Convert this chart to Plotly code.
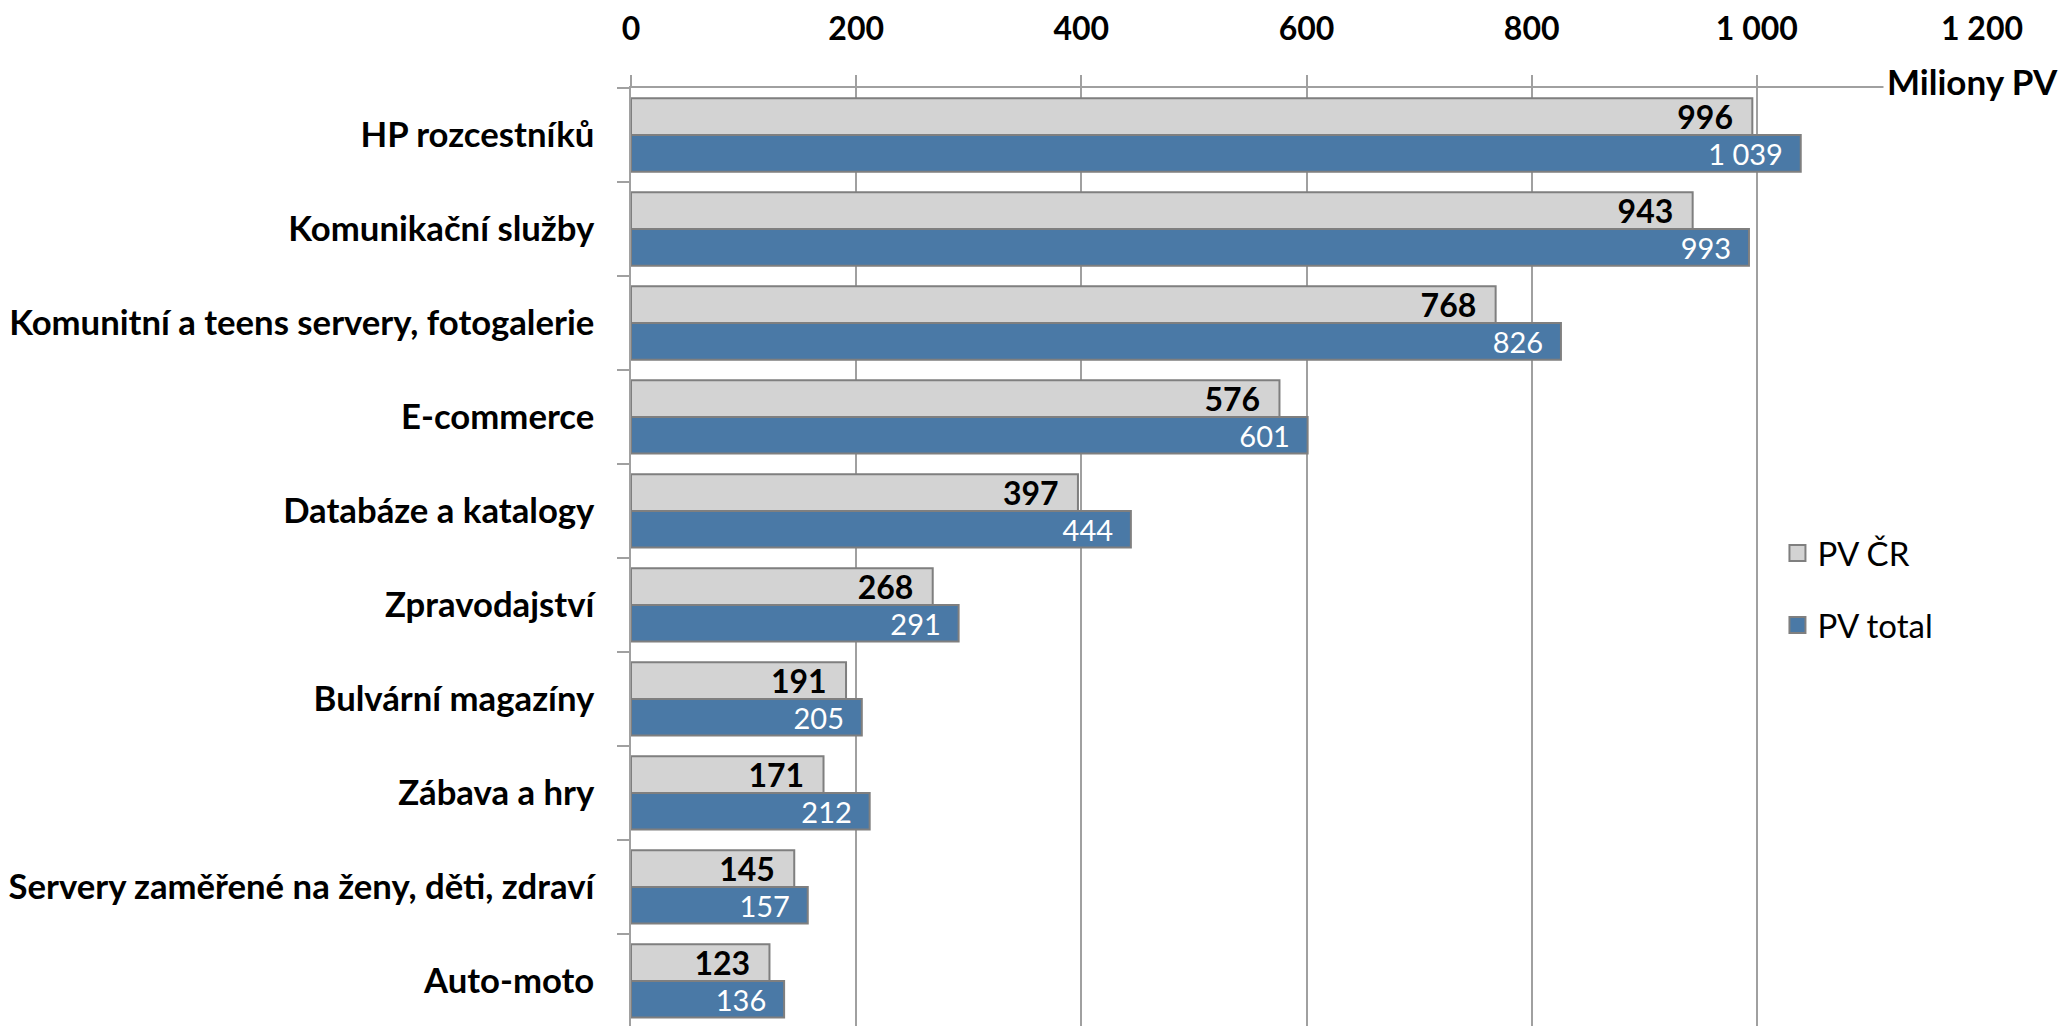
import plotly.graph_objects as go

categories = ["HP rozcestníků", "Komunikační služby", "Komunitní a teens servery, fotogalerie",
              "E-commerce", "Databáze a katalogy", "Zpravodajství", "Bulvární magazíny",
              "Zábava a hry", "Servery zaměřené na ženy, děti, zdraví", "Auto-moto"]
pv_cr = [996, 943, 768, 576, 397, 268, 191, 171, 145, 123]
pv_total = [1039, 993, 826, 601, 444, 291, 205, 212, 157, 136]
series_names = ["PV ČR", "PV total"]
series_colors = ["#D3D3D3", "#4A79A6"]
unit_label = "Miliony PV"

FONT = "Lato"
W, H = 2059, 1026
L, R, T, B = 631, 77, 88, 0
EDGE = "#7F7F7F"

fig = go.Figure()
fig.add_trace(go.Bar(
    y=categories, x=pv_cr, orientation="h", name=series_names[0], showlegend=False,
    marker=dict(color=series_colors[0], line=dict(color=EDGE, width=2)),
    texttemplate="<b>%{x:,}</b>\u00a0\u00a0", textposition="inside", insidetextanchor="end",
    constraintext="none", textangle=0,
    textfont=dict(family=FONT, size=32, color="#000000"),
))
fig.add_trace(go.Bar(
    y=categories, x=pv_total, orientation="h", name=series_names[1], showlegend=False,
    marker=dict(color=series_colors[1], line=dict(color=EDGE, width=2)),
    texttemplate="%{x:,}\u00a0\u00a0", textposition="inside", insidetextanchor="end",
    constraintext="none", textangle=0,
    textfont=dict(family=FONT, size=29, color="#FFFFFF"),
))
# legend entries (square swatches)
for i, (nm, col) in enumerate(zip(series_names, series_colors)):
    fig.add_trace(go.Scatter(
        x=[None], y=[None], mode="markers", name=nm, legendgroup=f"g{i}",
        marker=dict(symbol="square", size=18, color=col, line=dict(color=EDGE, width=2)),
        hoverinfo="skip",
    ))

fig.update_layout(
    width=W, height=H,
    margin=dict(l=L, r=R, t=T, b=B, autoexpand=False),
    paper_bgcolor="white", plot_bgcolor="white",
    barmode="group", bargap=0.22, bargroupgap=0,
    separators=", ",
    font=dict(family=FONT, color="#000000"),
    legend=dict(x=0.8486, y=0.534, xanchor="left", yanchor="top",
                font=dict(family=FONT, size=33, color="#000000"),
                traceorder="grouped", tracegroupgap=26, bgcolor="rgba(0,0,0,0)"),
    xaxis=dict(side="top", range=[0, 1200], dtick=200, tickformat=",",
               showline=True, linecolor="#A0A0A0", linewidth=1.5,
               showgrid=True, gridcolor="#A0A0A0", gridwidth=1.5, zeroline=False,
               ticks="outside", ticklen=11, tickcolor="#A0A0A0", tickwidth=1.5,
               ticklabelstandoff=22,
               tickfont=dict(family=FONT, size=32, color="#000000", weight="bold")),
    yaxis=dict(categoryorder="array", categoryarray=categories, range=[9.48, -0.5],
               showline=True, linecolor="#A0A0A0", linewidth=1.5, showgrid=False,
               ticks="outside", tickson="boundaries", ticklen=12, tickcolor="#A0A0A0", tickwidth=1.5,
               ticklabelstandoff=28,
               tickfont=dict(family=FONT, size=34.7, color="#000000", weight="bold")),
    annotations=[dict(text="<b>" + unit_label + "</b>", xref="paper", yref="paper",
                      x=0.993, y=1.0075, xanchor="center", yanchor="middle", showarrow=False,
                      bgcolor="white", borderpad=3,
                      font=dict(family=FONT, size=35, color="#000000"))],
)

fig.write_html("out.html", config={"displayModeBar": False},
               post_script="document.body.style.margin='0px';")
